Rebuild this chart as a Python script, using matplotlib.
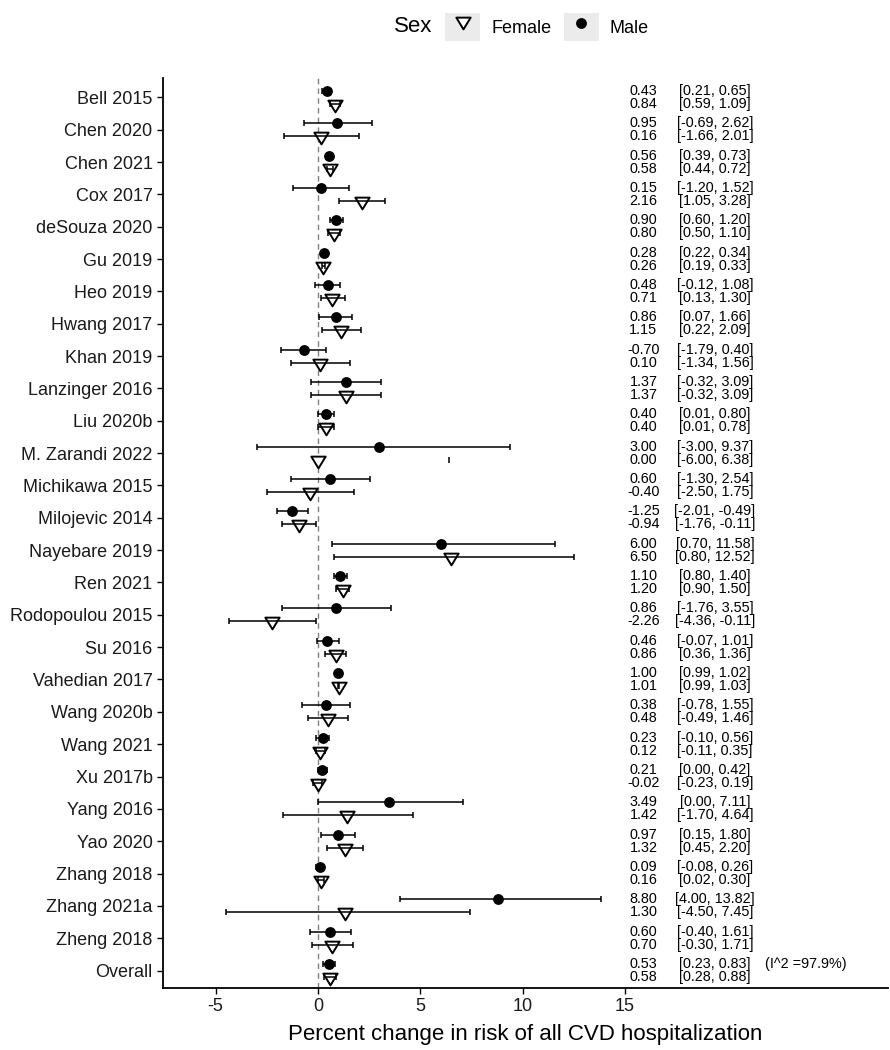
import matplotlib
matplotlib.use("Agg")
import matplotlib.pyplot as plt
from matplotlib.lines import Line2D
from matplotlib.patches import Patch
from matplotlib.path import Path
from matplotlib.legend_handler import HandlerTuple

plt.rcParams['font.family'] = ['Liberation Sans', 'DejaVu Sans']

# study labels, top to bottom
studies = ["Bell 2015", "Chen 2020", "Chen 2021", "Cox 2017", "deSouza 2020",
           "Gu 2019", "Heo 2019", "Hwang 2017", "Khan 2019", "Lanzinger 2016",
           "Liu 2020b", "M. Zarandi 2022", "Michikawa 2015", "Milojevic 2014",
           "Nayebare 2019", "Ren 2021", "Rodopoulou 2015", "Su 2016",
           "Vahedian 2017", "Wang 2020b", "Wang 2021", "Xu 2017b", "Yang 2016",
           "Yao 2020", "Zhang 2018", "Zhang 2021a", "Zheng 2018", "Overall"]

# male estimates and 95% CI
male_est = [0.43, 0.95, 0.56, 0.15, 0.90, 0.28, 0.48, 0.86, -0.70, 1.37,
            0.40, 3.00, 0.60, -1.25, 6.00, 1.10, 0.86, 0.46, 1.00, 0.38,
            0.23, 0.21, 3.49, 0.97, 0.09, 8.80, 0.60, 0.53]
male_lo = [0.21, -0.69, 0.39, -1.20, 0.60, 0.22, -0.12, 0.07, -1.79, -0.32,
           0.01, -3.00, -1.30, -2.01, 0.70, 0.80, -1.76, -0.07, 0.99, -0.78,
           -0.10, 0.00, 0.00, 0.15, -0.08, 4.00, -0.40, 0.23]
male_hi = [0.65, 2.62, 0.73, 1.52, 1.20, 0.34, 1.08, 1.66, 0.40, 3.09,
           0.80, 9.37, 2.54, -0.49, 11.58, 1.40, 3.55, 1.01, 1.02, 1.55,
           0.56, 0.42, 7.11, 1.80, 0.26, 13.82, 1.61, 0.83]

# female estimates and 95% CI
female_est = [0.84, 0.16, 0.58, 2.16, 0.80, 0.26, 0.71, 1.15, 0.10, 1.37,
              0.40, 0.00, -0.40, -0.94, 6.50, 1.20, -2.26, 0.86, 1.01, 0.48,
              0.12, -0.02, 1.42, 1.32, 0.16, 1.30, 0.70, 0.58]
female_lo = [0.59, -1.66, 0.44, 1.05, 0.50, 0.19, 0.13, 0.22, -1.34, -0.32,
             0.01, -6.00, -2.50, -1.76, 0.80, 0.90, -4.36, 0.36, 0.99, -0.49,
             -0.11, -0.23, -1.70, 0.45, 0.02, -4.50, -0.30, 0.28]
female_hi = [1.09, 2.01, 0.72, 3.28, 1.10, 0.33, 1.30, 2.09, 1.56, 3.09,
             0.78, 6.38, 1.75, -0.11, 12.52, 1.50, -0.11, 1.36, 1.03, 1.46,
             0.35, 0.19, 4.64, 2.20, 0.30, 7.45, 1.71, 0.88]

# in the original only the upper cap of this bar is visible
female_cap_only = ["M. Zarandi 2022"]

i2_text = "(I^2 =97.9%)"
xticks = [-5, 0, 5, 10, 15]

fig = plt.figure(figsize=(8.9, 10.5), dpi=100)
ax = fig.add_axes([163 / 890, 62 / 1050, 725 / 890, 910 / 1050])

n = len(studies)
ypos = list(range(n))
dm = -0.2   # male row offset
df = 0.2    # female row offset
# downward open triangle, a bit wider than tall
tri = Path([(-1, 0.82), (1, 0.82), (0, -0.82), (-1, 0.82)],
           [Path.MOVETO, Path.LINETO, Path.LINETO, Path.CLOSEPOLY])

ax.axvline(0, color='#808080', lw=1.0, ls=(0, (4, 3)), zorder=1)

for i in range(n):
    # male
    ax.plot(male_est[i], i + dm, marker='o', ms=7.8, mew=0, color='black',
            ls='none', zorder=3)
    ax.errorbar(male_est[i], i + dm,
                xerr=[[male_est[i] - male_lo[i]], [male_hi[i] - male_est[i]]],
                fmt='none', ecolor='black', elinewidth=1.1, capsize=2.2,
                capthick=1.1, zorder=4)
    # female
    ax.plot(female_est[i], i + df + 0.06, marker=tri, ms=10.3,
            markerfacecolor='white', markeredgecolor='black', mew=1.4,
            ls='none', zorder=3)
    if studies[i] in female_cap_only:
        ax.plot(female_hi[i], i + df, marker='|', ms=4.4, mew=1.1,
                color='black', zorder=4)
    else:
        ax.errorbar(female_est[i], i + df,
                    xerr=[[female_est[i] - female_lo[i]],
                          [female_hi[i] - female_est[i]]],
                    fmt='none', ecolor='black', elinewidth=1.1, capsize=2.2,
                    capthick=1.1, zorder=4)
    # estimate text
    ax.text(15.9, i + dm, "%.2f" % male_est[i], ha='center', va='center',
            fontsize=10.4)
    ax.text(15.9, i + df, "%.2f" % female_est[i], ha='center', va='center',
            fontsize=10.4)
    ax.text(19.4, i + dm, "[%.2f, %.2f]" % (male_lo[i], male_hi[i]),
            ha='center', va='center', fontsize=10.4)
    ax.text(19.4, i + df, "[%.2f, %.2f]" % (female_lo[i], female_hi[i]),
            ha='center', va='center', fontsize=10.4)

ax.text(23.85, n - 1 + dm, i2_text, ha='center', va='center', fontsize=10.4)

ax.set_xlim(-7.57, 27.85)
ax.set_ylim(n - 1 + 0.54, -0.6)
ax.set_yticks(ypos)
ax.set_yticklabels(studies)
ax.set_xticks(xticks)
ax.set_xticklabels([str(t) for t in xticks])
ax.tick_params(axis='both', labelsize=13, labelcolor='#1a1a1a',
               length=4, width=1.0, direction='out', color='black')
ax.set_xlabel("Percent change in risk of all CVD hospitalization",
              fontsize=16, labelpad=6)

for s in ['top', 'right']:
    ax.spines[s].set_visible(False)
for s in ['left', 'bottom']:
    ax.spines[s].set_linewidth(1.3)

# legend on top
key_bg = '#EBEBEB'
h_f = (Patch(facecolor=key_bg, edgecolor='none'),
       Line2D([], [], marker=tri, ms=10.3, markerfacecolor='white',
              markeredgecolor='black', mew=1.4, ls='none'))
h_m = (Patch(facecolor=key_bg, edgecolor='none'),
       Line2D([], [], marker='o', ms=7.8, mew=0, color='black', ls='none'))
fig.legend([h_f, h_m], ["Female", "Male"],
           handler_map={tuple: HandlerTuple(ndivide=1, pad=0)},
           loc='center left', bbox_to_anchor=(445 / 890, 1 - 27 / 1050),
           ncol=2, frameon=False, fontsize=13, handlelength=1.95,
           handleheight=1.95, handletextpad=0.6, columnspacing=0.7,
           borderpad=0, borderaxespad=0)
fig.text(394 / 890, 1 - 27 / 1050, "Sex", fontsize=16, ha='left',
         va='center')

fig.savefig("out.png", dpi=100)
